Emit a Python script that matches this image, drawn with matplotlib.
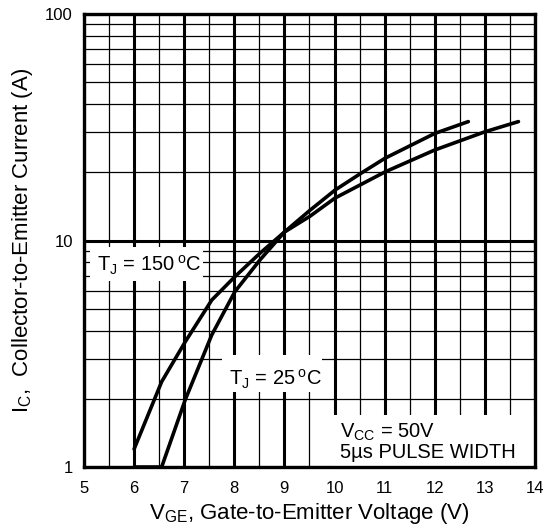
import matplotlib
matplotlib.use("Agg")
import matplotlib.pyplot as plt
from matplotlib.patches import Rectangle
from matplotlib.ticker import FixedLocator, NullFormatter

plt.rcParams['font.family'] = ['Liberation Sans', 'DejaVu Sans']
plt.rcParams['mathtext.fontset'] = 'custom'
plt.rcParams['mathtext.rm'] = 'Liberation Sans'

# Data
vge_150 = [6.0, 6.55, 7.02, 7.55, 8.01, 8.51, 9.0, 9.51, 10.01, 10.51, 11.01, 12.0, 12.67]
ic_150 = [1.2, 2.38, 3.57, 5.46, 6.92, 8.78, 10.9, 13.6, 16.7, 19.7, 23.1, 29.7, 33.5]
vge_25 = [6.0, 6.55, 7.02, 7.55, 8.01, 8.51, 9.0, 9.51, 10.01, 11.01, 12.0, 13.0, 13.67]
ic_25 = [1.0, 1.0, 1.98, 3.83, 5.94, 8.2, 10.9, 12.8, 15.4, 20.1, 25.1, 30.2, 33.5]

x_ticks = [5, 6, 7, 8, 9, 10, 11, 12, 13, 14]
y_ticks = [1, 10, 100]
y_tick_labels = ['1', '10', '100']

fig = plt.figure(figsize=(5.5, 5.31), dpi=100)
ax = fig.add_axes([0.1527, 0.1205, 0.82, 0.8531])
ax.set_yscale('log')
ax.set_xlim(5, 14)
ax.set_ylim(1, 100)

ax.xaxis.set_major_locator(FixedLocator(x_ticks))
ax.xaxis.set_minor_locator(FixedLocator([x + 0.5 for x in x_ticks[:-1]]))
ax.yaxis.set_major_locator(FixedLocator(y_ticks))
ax.yaxis.set_minor_locator(FixedLocator([m * d for d in (1, 10) for m in range(2, 10)]))
ax.yaxis.set_minor_formatter(NullFormatter())
ax.set_xticklabels([str(x) for x in x_ticks])
ax.set_yticklabels(y_tick_labels)

ax.grid(which='major', color='black', lw=2.2, zorder=1)
ax.grid(which='minor', color='black', lw=0.9, zorder=1)
ax.set_axisbelow(True)
ax.tick_params(which='both', length=0, labelsize=12)
ax.tick_params(axis='x', pad=10)
ax.tick_params(axis='y', pad=8)
for s in ax.spines.values():
    s.set_linewidth(2.4)
    s.set_zorder(5)

ax.plot(vge_150, ic_150, color='black', lw=2.6, zorder=3, solid_capstyle='round')
ax.plot(vge_25, ic_25, color='black', lw=2.6, zorder=3, solid_capstyle='round')

# white label boxes
ax.add_patch(Rectangle((5.12, 6.6), 7.375 - 5.12, 9.4 - 6.6, facecolor='white',
                       edgecolor='none', zorder=2))
ax.add_patch(Rectangle((7.75, 2.14), 9.75 - 7.75, 3.12 - 2.14, facecolor='white',
                       edgecolor='none', zorder=2))
ax.add_patch(Rectangle((9.97, 1.0), 14 - 9.97, 1.70 - 1.0, facecolor='white',
                       edgecolor='none', zorder=2))

fs = 14.5
ax.text(5.25, 7.33, r'T$_\mathregular{J}$ = 150$\,^{\mathregular{o}}$C', fontsize=fs,
        ha='left', va='baseline', zorder=4)
ax.text(7.9, 2.30, r'T$_\mathregular{J}$ = 25$\,^{\mathregular{o}}$C', fontsize=fs,
        ha='left', va='baseline', zorder=4)
ax.text(10.11, 1.343, r'V$_\mathregular{CC}$ = 50V', fontsize=fs,
        ha='left', va='baseline', zorder=4)
ax.text(10.11, 1.096, '5µs PULSE WIDTH', fontsize=fs,
        ha='left', va='baseline', zorder=4)

ax.set_xlabel(r'V$_\mathregular{GE}$, Gate-to-Emitter Voltage (V)', fontsize=16, labelpad=4)
ax.set_ylabel(r'I$_\mathregular{C}$,  Collector-to-Emitter Current (A)', fontsize=16, labelpad=7)

fig.savefig('out.png', dpi=100)
